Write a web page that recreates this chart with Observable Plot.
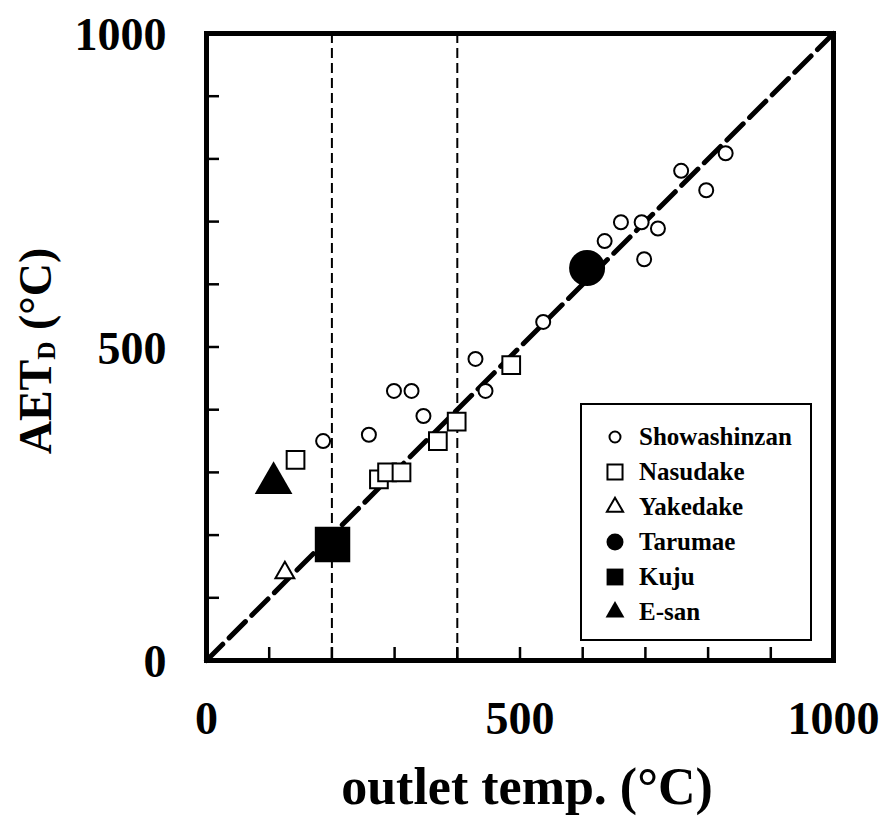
<!DOCTYPE html>
<html><head><meta charset="utf-8">
<script src="https://cdn.jsdelivr.net/npm/d3@7"></script>
<script src="https://cdn.jsdelivr.net/npm/@observablehq/plot@0.6"></script>
<style>
body{margin:0;background:#fff;}
#wrap{position:relative;width:885px;height:816px;}
#legend{position:absolute;left:580px;top:403px;width:232px;height:238px;box-sizing:border-box;border:2px solid #000;background:#fff;font-family:"Liberation Serif","Times New Roman",serif;font-weight:bold;font-size:25px;color:#000;}
.row{position:absolute;left:22px;height:30px;display:flex;align-items:center;white-space:nowrap;}
.row svg{width:22px;height:22px;margin-right:13px;overflow:visible;}
</style></head><body><div id="wrap"></div>
<script>
const FONT = '"Liberation Serif", "Times New Roman", serif';

// ---- data ----
const seriesNames = ["Showashinzan", "Nasudake", "Yakedake", "Tarumae", "Kuju", "E-san"];
const showaX = [186, 259, 299, 327, 346, 429, 445, 537, 635, 661, 694, 698, 720, 757, 797, 828];
const showaY = [350, 360, 430, 430, 390, 481, 430, 540, 669, 699, 699, 640, 689, 781, 750, 809];
const nasuX = [142, 275, 288, 311, 369, 399, 486];
const nasuY = [320, 289, 300, 300, 350, 381, 471];
const yakeX = [125];
const yakeY = [140];
const taruX = [607];
const taruY = [626];
const kujuX = [201];
const kujuY = [185];
const esanX = [107];
const esanY = [283];
const xTickLabels = [0, 500, 1000];
const yTickLabels = [0, 500, 1000];
const minorTicks = [100, 200, 300, 400, 500, 600, 700, 800, 900];
const refLinesX = [200, 400];
const oneToOneX = [0, 1000];
const oneToOneY = [0, 1000];
const xTitle = "outlet temp. (°C)";
const yTitleMain = "AET";
const yTitleSub = "D";
const yTitleRest = " (°C)";

const pts = (xs, ys) => xs.map((x, i) => ({x, y: ys[i]}));

const W = 885, H = 816;
const mL = 206, mR = 52, mT = 33, mB = 156;
const innerW = W - mL - mR, innerH = H - mT - mB;

const styles = {
  "Showashinzan": {symbol: "circle", r: 7, fill: "white", stroke: "black", strokeWidth: 2},
  "Nasudake": {symbol: "square", r: 10, fill: "white", stroke: "black", strokeWidth: 2},
  "Yakedake": {symbol: "triangle", r: 7, fill: "white", stroke: "black", strokeWidth: 2},
  "Tarumae": {symbol: "circle", r: 18, fill: "black", stroke: "none"},
  "Kuju": {symbol: "square", r: 20, fill: "black", stroke: "none"},
  "E-san": {symbol: "triangle", r: 14, fill: "black", stroke: "none"}
};
const seriesData = {
  "Showashinzan": pts(showaX, showaY),
  "Nasudake": pts(nasuX, nasuY),
  "Yakedake": pts(yakeX, yakeY),
  "Tarumae": pts(taruX, taruY),
  "Kuju": pts(kujuX, kujuY),
  "E-san": pts(esanX, esanY)
};

const yTitleFull = yTitleMain + yTitleSub + yTitleRest;

const chart = Plot.plot({
  width: W, height: H,
  marginLeft: mL, marginRight: mR, marginTop: mT, marginBottom: mB,
  x: {domain: [0, 1000], axis: null},
  y: {domain: [0, 1000], axis: null},
  style: {fontFamily: FONT, background: "white", color: "black"},
  marks: [
    Plot.ruleX(refLinesX, {x: d => d, stroke: "black", strokeWidth: 2, strokeDasharray: "10,5"}),
    Plot.line(pts(oneToOneX, oneToOneY), {x: "x", y: "y", stroke: "black", strokeWidth: 5, strokeDasharray: "23,9"}),
    ...seriesNames.map(name => Plot.dot(seriesData[name], {x: "x", y: "y", ...styles[name]})),
    Plot.tickX(minorTicks, {x: d => d, insetTop: innerH - 13, stroke: "black", strokeWidth: 2.5}),
    Plot.tickY(minorTicks, {y: d => d, insetRight: innerW - 13, stroke: "black", strokeWidth: 2.5}),
    Plot.frame({stroke: "black", strokeWidth: 5}),
    Plot.text(xTickLabels, {x: d => d, text: d => String(d), frameAnchor: "bottom", dy: 59, textAnchor: "middle", lineAnchor: "middle", fontSize: 46, fontWeight: "bold", fill: "black"}),
    Plot.text(yTickLabels, {y: d => d, text: d => String(d), frameAnchor: "left", dx: -40, dy: 2, textAnchor: "end", lineAnchor: "middle", fontSize: 46, fontWeight: "bold", fill: "black"}),
    Plot.text([xTitle], {text: d => d, frameAnchor: "bottom", dx: 7, dy: 127, textAnchor: "middle", lineAnchor: "middle", fontSize: 52, fontWeight: "bold", fill: "black"}),
    Plot.text([yTitleFull], {text: d => d, frameAnchor: "left", dx: -170, dy: 4, rotate: -90, textAnchor: "middle", lineAnchor: "middle", fontSize: 46, fontWeight: "bold", fill: "black"})
  ]
});

const wrap = document.getElementById("wrap");
wrap.appendChild(chart);

// subscript in the y title
d3.select(chart).selectAll("text").filter(function() {
  return this.textContent === yTitleFull;
}).each(function() {
  const t = d3.select(this);
  t.text(null);
  t.append("tspan").text(yTitleMain);
  t.append("tspan").attr("font-size", "55%").attr("dy", 4).text(yTitleSub);
  t.append("tspan").attr("dy", -4).text(yTitleRest);
});

// legend
const legend = document.createElement("div");
legend.id = "legend";
const legendSizes = {"Showashinzan": 5.5, "Nasudake": 8.5, "Yakedake": 6, "Tarumae": 8.5, "Kuju": 9.5, "E-san": 7};
seriesNames.forEach((name, i) => {
  const row = document.createElement("div");
  row.className = "row";
  row.style.top = (34 + i * 35 - 15 - 2) + "px";
  const s = styles[name];
  const r = legendSizes[name];
  const symType = s.symbol === "circle" ? d3.symbolCircle : s.symbol === "square" ? d3.symbolSquare : d3.symbolTriangle;
  const path = d3.symbol(symType, Math.PI * r * r)();
  const svg = d3.create("svg").attr("viewBox", "-11 -11 22 22");
  svg.append("path").attr("d", path)
    .attr("fill", s.fill)
    .attr("stroke", s.stroke === "none" ? "none" : "black")
    .attr("stroke-width", 2);
  row.appendChild(svg.node());
  const span = document.createElement("span");
  span.textContent = name;
  row.appendChild(span);
  legend.appendChild(row);
});
wrap.appendChild(legend);
</script>
</body></html>
